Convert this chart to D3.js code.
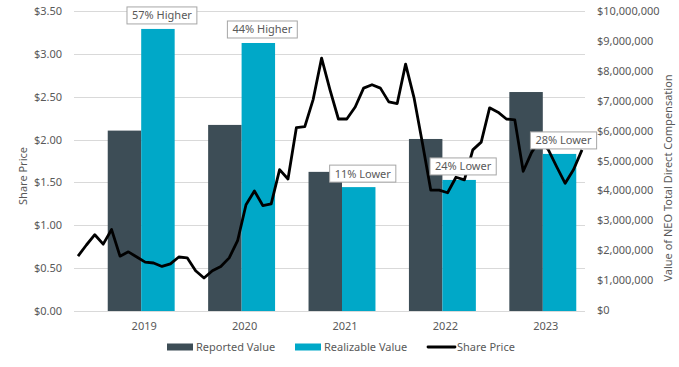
<!DOCTYPE html>
<html>
<head>
<meta charset="utf-8">
<script src="https://cdn.jsdelivr.net/npm/d3@7"></script>
<style>
  body { margin: 0; background: #fff; }
  svg text { font-family: "Noto Sans", "Liberation Sans", sans-serif; fill: #595959; }
</style>
</head>
<body>
<svg class="chart"></svg>
<script>
/*Chart data*/
const years = ["2019", "2020", "2021", "2022", "2023"]
const series = ["Reported Value", "Realizable Value"]
const reported = [6.0e6, 6.19e6, 4.62e6, 5.72e6, 7.29e6]
const realizable = [9.4e6, 8.93e6, 4.11e6, 4.35e6, 5.22e6]
const diffLabels = ["57% Higher", "44% Higher", "11% Lower", "24% Lower", "28% Lower"]
/*Monthly share price, Dec 2018 to Dec 2023*/
const price = [
  0.64, 0.77, 0.89, 0.78, 0.95, 0.64, 0.69, 0.63, 0.57, 0.56,
  0.52, 0.55, 0.63, 0.62, 0.47, 0.385, 0.47, 0.52, 0.62, 0.82,
  1.24, 1.40, 1.23, 1.25, 1.65, 1.54, 2.14, 2.15, 2.47, 2.95,
  2.58, 2.24, 2.24, 2.38, 2.60, 2.64, 2.60, 2.44, 2.42, 2.88,
  2.49, 1.96, 1.41, 1.41, 1.38, 1.56, 1.53, 1.88, 1.97, 2.37,
  2.32, 2.24, 2.23, 1.63, 1.85, 2.00, 1.88, 1.68, 1.49, 1.65, 1.88
]
const priceTicks = [0, 0.5, 1, 1.5, 2, 2.5, 3, 3.5]
const compTicks = d3.range(0, 10000001, 1000000)

const width = 679, height = 367
const plot = { left: 74, right: 585, top: 11, bottom: 311 }
const colors = { "Reported Value": "#3d4d56", "Realizable Value": "#00a8c8" }

var chart = d3.select(".chart")
    .attr("width", width)
    .attr("height", height)

/*Scales*/
var x0 = d3.scaleBand().domain(years).range([91, 593])
    .paddingInner(1 / 3).paddingOuter(1 / 6)
var x1 = d3.scaleBand().domain(series).range([0, x0.bandwidth()])
var yLeft = d3.scaleLinear().domain([0, 3.5]).range([plot.bottom, plot.top])
var yRight = d3.scaleLinear().domain([0, 10000000]).range([plot.bottom - 1, plot.top])
var xLine = d3.scaleLinear().domain([0, price.length - 1]).range([78, 582])

/*Gridlines*/
chart.append("g")
  .selectAll("line")
  .data(priceTicks)
  .enter()
  .append("line")
    .attr("x1", plot.left)
    .attr("x2", plot.right)
    .attr("y1", (d) => Math.round(yLeft(d)) + 0.5)
    .attr("y2", (d) => Math.round(yLeft(d)) + 0.5)
    .attr("stroke", "#d9d9d9")
    .attr("stroke-width", 1)

/*Left axis*/
var leftAxis = chart.append("g")
    .attr("transform", "translate(62,0)")
    .call(d3.axisLeft(yLeft).tickValues(priceTicks).tickSize(0).tickPadding(0)
      .tickFormat((d) => "$" + d3.format(".2f")(d)))
leftAxis.select(".domain").remove()
leftAxis.selectAll("text").style("font-size", "11px")

/*Right axis*/
var rightAxis = chart.append("g")
    .attr("transform", "translate(597,0)")
    .call(d3.axisRight(yRight).tickValues(compTicks).tickSize(0).tickPadding(0)
      .tickFormat((d) => "$" + d3.format(",")(d)))
rightAxis.select(".domain").remove()
rightAxis.selectAll("text").style("font-size", "11px")

/*Category labels*/
chart.append("g")
  .selectAll("text")
  .data(years)
  .enter()
  .append("text")
    .attr("x", (d) => x0(d) + x0.bandwidth() / 2 + 3)
    .attr("y", 330)
    .attr("text-anchor", "middle")
    .style("font-size", "11px")
    .text((d) => d)

/*Bars*/
var groups = chart.append("g")
  .selectAll("g")
  .data(years.map((y, i) => ({ year: y, values: [reported[i], realizable[i]] })))
  .enter()
  .append("g")
    .attr("transform", (d) => "translate(" + x0(d.year) + ",0)")

groups.selectAll("rect")
  .data((d) => d.values.map((v, j) => ({ key: series[j], value: v })))
  .enter()
  .append("rect")
    .attr("x", (d) => x1(d.key))
    .attr("width", x1.bandwidth())
    .attr("y", (d) => yRight(d.value))
    .attr("height", (d) => yRight(0) - yRight(d.value) + 1)
    .attr("fill", (d) => colors[d.key])

/*Share price line*/
var line = d3.line()
    .x((d, i) => xLine(i))
    .y((d) => yLeft(d))

chart.append("path")
  .datum(price)
    .attr("d", line)
    .attr("fill", "none")
    .attr("stroke", "#000")
    .attr("stroke-width", 2.8)
    .attr("stroke-linejoin", "round")

/*Difference labels above the realizable bars*/
var notes = chart.append("g")
  .selectAll("g")
  .data(years.map((y, i) => ({ year: y, value: realizable[i], label: diffLabels[i] })))
  .enter()
  .append("g")
    .attr("transform", (d) => "translate(" +
      (x0(d.year) + x1("Realizable Value") + x1.bandwidth() / 2 + 4) + "," +
      (yRight(d.value) - 5) + ")")

notes.append("rect")
    .attr("fill", "#fff")
    .attr("stroke", "#a6a6a6")
    .attr("stroke-width", 1)
notes.append("text")
    .attr("text-anchor", "middle")
    .attr("y", -4.5)
    .style("font-size", "11px")
    .text((d) => d.label)
notes.each(function () {
  var g = d3.select(this)
  var w = g.select("text").node().getComputedTextLength() + 10
  g.select("rect")
    .attr("x", -w / 2)
    .attr("y", -17)
    .attr("width", w)
    .attr("height", 17)
})

/*Axis titles*/
chart.append("text")
    .attr("transform", "translate(27,176) rotate(-90)")
    .attr("text-anchor", "middle")
    .style("font-size", "11px")
    .text("Share Price")
chart.append("text")
    .attr("transform", "translate(672,178) rotate(-90)")
    .attr("text-anchor", "middle")
    .style("font-size", "11px")
    .text("Value of NEO Total Direct Compensation")

/*Legend*/
var legendItems = [
  { label: "Reported Value", x: 167, type: "rect", color: colors["Reported Value"] },
  { label: "Realizable Value", x: 295, type: "rect", color: colors["Realizable Value"] },
  { label: "Share Price", x: 428, type: "line", color: "#000" }
]
var legend = chart.append("g")
  .selectAll("g")
  .data(legendItems)
  .enter()
  .append("g")
    .attr("transform", (d) => "translate(" + d.x + ",347)")

legend.filter((d) => d.type == "rect")
  .append("rect")
    .attr("y", -3.5)
    .attr("width", 26)
    .attr("height", 7)
    .attr("fill", (d) => d.color)
legend.filter((d) => d.type == "line")
  .append("line")
    .attr("x2", 27)
    .attr("stroke", (d) => d.color)
    .attr("stroke-width", 2.8)
    .attr("stroke-linecap", "round")
legend.append("text")
    .attr("x", (d) => d.type == "line" ? 29 : 29)
    .attr("dy", "0.35em")
    .style("font-size", "11px")
    .text((d) => d.label)
</script>
</body>
</html>
